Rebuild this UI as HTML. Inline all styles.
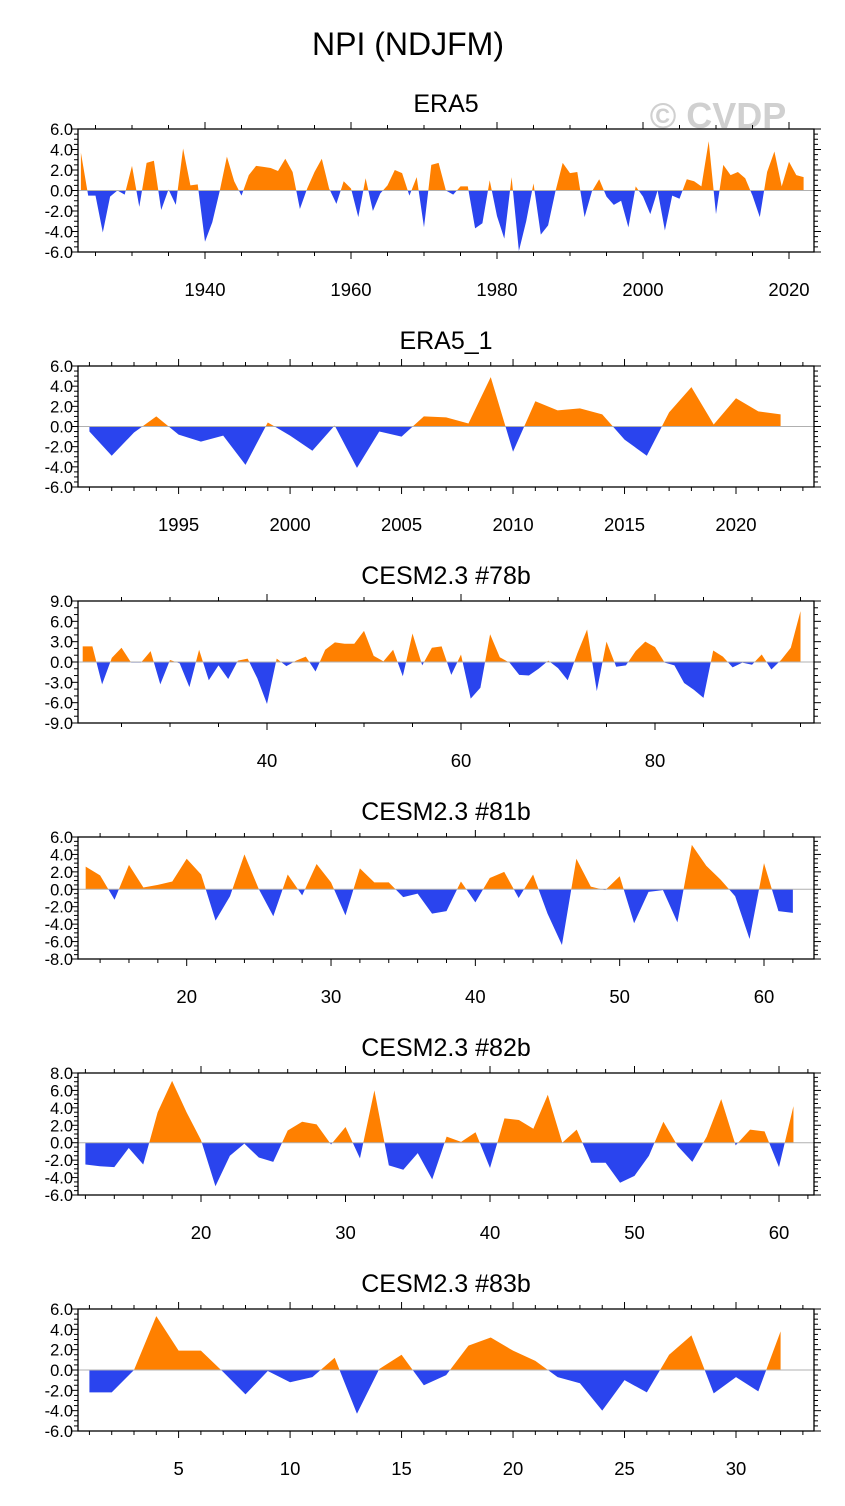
<!DOCTYPE html>
<html><head><meta charset="utf-8"><style>
html,body{margin:0;padding:0;background:#fff;}
svg{display:block;font-family:"Liberation Sans",sans-serif;}
</style></head><body>
<svg id="chart" width="845" height="1506" viewBox="0 0 845 1506" xmlns="http://www.w3.org/2000/svg">
<text x="408" y="55" font-size="32" text-anchor="middle">NPI (NDJFM)</text>
<text x="718" y="128" font-size="36" font-weight="bold" fill="#d0d0d0" text-anchor="middle">© CVDP</text>
</svg>
<script>
const era5Start = 1923;
const era5Values = [3.7,-0.5,-0.5,-4.1,-0.6,0.0,-0.4,2.4,-1.6,2.7,2.9,-1.9,0.1,-1.4,4.1,0.5,0.6,-5.0,-3.1,-0.1,3.3,0.9,-0.5,1.5,2.4,2.3,2.2,1.9,3.1,1.8,-1.8,0.2,1.8,3.1,0.2,-1.3,0.9,0.2,-2.6,1.2,-2.0,-0.3,0.5,2.0,1.7,-0.5,1.3,-3.6,2.5,2.7,0.0,-0.4,0.4,0.4,-3.7,-3.2,1.0,-2.5,-4.7,1.3,-5.9,-3.0,0.7,-4.3,-3.4,-0.1,2.7,1.7,1.8,-2.6,-0.1,1.1,-0.6,-1.4,-1.0,-3.6,0.4,-0.6,-2.3,0.0,-3.9,-0.5,-0.8,1.1,0.9,0.4,4.8,-2.3,2.5,1.5,1.8,1.2,-0.5,-2.6,1.8,3.8,0.4,2.8,1.5,1.3];
const era5XTicks = [1940,1960,1980,2000,2020];
const era51Start = 1991;
const era51Values = [-0.5,-2.9,-0.6,1.0,-0.8,-1.5,-0.9,-3.8,0.4,-0.9,-2.4,0.1,-4.1,-0.5,-1.0,1.0,0.9,0.3,4.9,-2.5,2.5,1.6,1.8,1.2,-1.3,-2.9,1.4,3.9,0.2,2.8,1.5,1.2];
const era51XTicks = [1995,2000,2005,2010,2015,2020];
const m78Start = 21;
const m78Values = [2.3,2.3,-3.3,0.6,2.1,-0.1,-0.1,1.6,-3.3,0.3,-0.2,-3.7,1.8,-2.7,-0.5,-2.5,0.2,0.5,-2.4,-6.2,0.5,-0.6,0.2,0.8,-1.4,1.8,2.9,2.7,2.7,4.6,0.9,0.1,1.8,-2.1,4.2,-0.5,2.1,2.3,-1.9,1.1,-5.4,-3.8,4.1,0.7,-0.1,-1.9,-2.0,-1.0,0.2,-0.9,-2.7,1.3,4.8,-4.3,3.0,-0.7,-0.5,1.6,3.0,2.2,-0.1,-0.5,-3.1,-4.1,-5.3,1.7,0.8,-0.8,-0.1,-0.4,1.1,-1.1,0.3,2.1,7.5];
const m78XTicks = [40,60,80];
const m81Start = 13;
const m81Values = [2.6,1.6,-1.2,2.8,0.2,0.5,0.9,3.5,1.7,-3.6,-0.8,4.0,0.0,-3.1,1.7,-0.7,2.9,0.8,-3.0,2.4,0.8,0.8,-0.9,-0.5,-2.8,-2.5,0.9,-1.5,1.3,2.0,-1.0,1.7,-2.8,-6.4,3.5,0.3,-0.1,1.5,-3.9,-0.3,-0.1,-3.8,5.1,2.7,1.1,-0.8,-5.7,3.0,-2.5,-2.7];
const m81XTicks = [20,30,40,50,60];
const m82Start = 12;
const m82Values = [-2.5,-2.7,-2.8,-0.6,-2.5,3.5,7.1,3.5,0.3,-5.0,-1.5,-0.1,-1.7,-2.2,1.4,2.4,2.1,-0.2,1.8,-1.8,6.0,-2.6,-3.1,-1.2,-4.2,0.7,0.1,1.2,-2.9,2.8,2.6,1.6,5.5,0.0,1.5,-2.3,-2.3,-4.6,-3.8,-1.5,2.4,-0.4,-2.2,0.7,5.0,-0.3,1.5,1.3,-2.8,4.2];
const m82XTicks = [20,30,40,50,60];
const m83Start = 1;
const m83Values = [-2.2,-2.2,0.0,5.3,1.9,1.9,-0.2,-2.4,-0.1,-1.2,-0.7,1.2,-4.3,0.1,1.5,-1.5,-0.5,2.4,3.2,1.9,0.9,-0.7,-1.3,-4.0,-1.0,-2.2,1.5,3.4,-2.3,-0.7,-2.1,3.8];
const m83XTicks = [5,10,15,20,25,30];

const NS = "http://www.w3.org/2000/svg";
const svg = document.getElementById('chart');
function mk(tag, attrs, parent){ const e=document.createElementNS(NS,tag); for(const k in attrs) e.setAttribute(k,attrs[k]); (parent||svg).appendChild(e); return e; }

const X0=78, X1=814;
let clipId=0;
function panel(opts){
  const {name,title,top,bot,ymin,ymax,ymaj,ymin2,start,values,xticks,xa,xb,xminor} = opts;
  const g = mk('g',{});
  
  
  const yS = v => bot - (v-ymin)/(ymax-ymin)*(bot-top);
  const xS = t => xa[1] + (t-xa[0])*(xb[1]-xa[1])/(xb[0]-xa[0]);
  const t = mk('text',{x:(X0+X1)/2,y:top-17,'font-size':25,'text-anchor':'middle'},g);
  t.textContent = title;
  
  
  const y0 = yS(0);
  let pts = `${xS(start)},${y0} `;
  values.forEach((v,i)=>{ pts += `${xS(start+i)},${yS(v)} `; });
  pts += `${xS(start+values.length-1)},${y0}`;
  const idA='cA'+(clipId), idB='cB'+(clipId++);
  const defs = mk('defs',{},g);
  const ca = mk('clipPath',{id:idA},defs); mk('rect',{x:X0,y:top,width:X1-X0,height:y0-top},ca);
  const cb = mk('clipPath',{id:idB},defs); mk('rect',{x:X0,y:y0,width:X1-X0,height:bot-y0},cb);
  const pa = mk('polygon',{points:pts,fill:'#ff8000','clip-path':`url(#${idA})`},g);
  
  
  const pb = mk('polygon',{points:pts,fill:'#2a44ee','clip-path':`url(#${idB})`},g);
  
  
  const zl = mk('line',{x1:X0,x2:X1,y1:y0,y2:y0,stroke:'#b0b0b0','stroke-width':1},g);
  
  
  for(let v=ymin; v<=ymax+1e-6; v+=ymin2){
    const y=yS(v); const isMaj = Math.abs(((v-ymin)/ymaj)-Math.round((v-ymin)/ymaj))<1e-6;
    const L = isMaj?7:4;
    mk('line',{x1:X0-L,x2:X0,y1:y,y2:y,stroke:'#000','stroke-width':1},g);
    mk('line',{x1:X1,x2:X1+L,y1:y,y2:y,stroke:'#000','stroke-width':1},g);
    if(isMaj){
      const lb = mk('text',{x:X0-5,y:y+6,'font-size':16.5,'text-anchor':'end'},g);
      lb.textContent = v.toFixed(1);
      
      
    }
  }
  const pxPer = (xb[1]-xa[1])/(xb[0]-xa[0]);
  for(let tv=Math.ceil((xa[0]-(xa[1]-X0)/pxPer)/xminor)*xminor; xS(tv)<=X1; tv+=xminor){
    const x=xS(tv); const isMaj = xticks.includes(tv); const L=isMaj?7:4;
    mk('line',{x1:x,x2:x,y1:bot,y2:bot+L,stroke:'#000','stroke-width':1},g);
    mk('line',{x1:x,x2:x,y1:top-L,y2:top,stroke:'#000','stroke-width':1},g);
  }
  xticks.forEach(tv=>{
    const lb = mk('text',{x:xS(tv),y:bot+44,'font-size':18.5,'text-anchor':'middle'},g);
    lb.textContent = String(tv);
    
    
  });
  const bx = mk('rect',{x:X0,y:top,width:X1-X0,height:bot-top,fill:'none',stroke:'#000','stroke-width':1.3},g);
  
  
}
panel({name:'era5',title:'ERA5',top:129,bot:252,ymin:-6,ymax:6,ymaj:2,ymin2:0.5,start:era5Start,values:era5Values,xticks:era5XTicks,xa:[1940,205],xb:[2020,789],xminor:5});
panel({name:'era5-1',title:'ERA5_1',top:366,bot:487,ymin:-6,ymax:6,ymaj:2,ymin2:0.5,start:era51Start,values:era51Values,xticks:era51XTicks,xa:[1995,178.6],xb:[2020,736],xminor:1});
panel({name:'cesm-78b',title:'CESM2.3 #78b',top:601,bot:723,ymin:-9,ymax:9,ymaj:3,ymin2:1,start:m78Start,values:m78Values,xticks:m78XTicks,xa:[40,267],xb:[80,655],xminor:5});
panel({name:'cesm-81b',title:'CESM2.3 #81b',top:837,bot:959,ymin:-8,ymax:6,ymaj:2,ymin2:0.5,start:m81Start,values:m81Values,xticks:m81XTicks,xa:[20,186.7],xb:[60,764],xminor:2});
panel({name:'cesm-82b',title:'CESM2.3 #82b',top:1073,bot:1195,ymin:-6,ymax:8,ymaj:2,ymin2:0.5,start:m82Start,values:m82Values,xticks:m82XTicks,xa:[20,201],xb:[60,779],xminor:2});
panel({name:'cesm-83b',title:'CESM2.3 #83b',top:1309,bot:1431,ymin:-6,ymax:6,ymaj:2,ymin2:0.5,start:m83Start,values:m83Values,xticks:m83XTicks,xa:[5,178.6],xb:[30,736],xminor:1});
</script>
</body></html>
